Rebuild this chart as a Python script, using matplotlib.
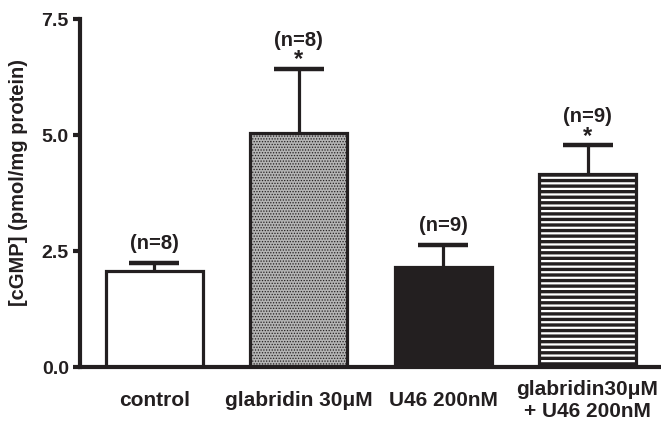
import numpy as np
import matplotlib
matplotlib.use("Agg")
import matplotlib.pyplot as plt

groups = ["control", "glabridin 30\u03bcM", "U46 200nM", "glabridin30\u03bcM\n+ U46 200nM"]
means = [2.07, 5.05, 2.16, 4.17]
sems = [0.17, 1.37, 0.47, 0.61]
n_labels = ["(n=8)", "(n=8)", "(n=9)", "(n=9)"]
signif = ["", "*", "", "*"]

ink = "#231f20"
plt.rcParams['font.family'] = ['Liberation Sans', 'DejaVu Sans']
plt.rcParams['font.weight'] = 'bold'

fig = plt.figure(figsize=(6.61, 4.24), dpi=100)
ax = fig.add_axes([0.121, 0.134, 0.877, 0.821])

x = np.arange(len(groups))
faces = ["white", "#b4b4b4", ink, "white"]
hatches = [None, "......", None, "---"]
hatch_lw = [1.0, 0.6, 1.0, 2.4]
for i in range(len(groups)):
    with plt.rc_context({'hatch.linewidth': hatch_lw[i], 'hatch.color': ink}):
        ax.bar(x[i], means[i], width=0.67, color=faces[i], edgecolor=ink,
               linewidth=2.3, hatch=hatches[i], zorder=2)
# symmetric bars drawn behind the columns, so only the upper half shows
ax.errorbar(x, means, yerr=sems, fmt='none', ecolor=ink,
            elinewidth=2.3, capsize=18, capthick=3.2, zorder=1)

for i in range(len(groups)):
    top = means[i] + sems[i]
    if signif[i]:
        ax.text(x[i], top + 0.2, signif[i], ha='center', va='center',
                fontsize=17, fontweight='bold', color=ink)
        ax.text(x[i], top + 0.62, n_labels[i], ha='center', va='center',
                fontsize=14.5, fontweight='bold', color=ink)
    else:
        ax.text(x[i], top + 0.42, n_labels[i], ha='center', va='center',
                fontsize=14.5, fontweight='bold', color=ink)

ax.set_xlim(-0.516, 3.5)
ax.set_ylim(0, 7.5)
ax.set_yticks([0.0, 2.5, 5.0, 7.5])
ax.set_yticklabels(["0.0", "2.5", "5.0", "7.5"])
ax.set_xticks(x)
ax.set_xticklabels(groups, va='center')
ax.tick_params(axis='y', direction='out', length=5, width=3, colors=ink,
               labelsize=14, pad=3)
ax.tick_params(axis='x', length=0, labelsize=15, pad=24, colors=ink)
for lab in ax.get_xticklabels() + ax.get_yticklabels():
    lab.set_fontweight('bold')
ax.set_ylabel("[cGMP] (pmol/mg protein)", fontsize=14.5, fontweight='bold',
              color=ink)
ax.yaxis.set_label_coords(-0.09, 0.53)

for s in ['top', 'right']:
    ax.spines[s].set_visible(False)
for s in ['left', 'bottom']:
    ax.spines[s].set_linewidth(3)
    ax.spines[s].set_color(ink)

fig.savefig("out.png", dpi=100)
